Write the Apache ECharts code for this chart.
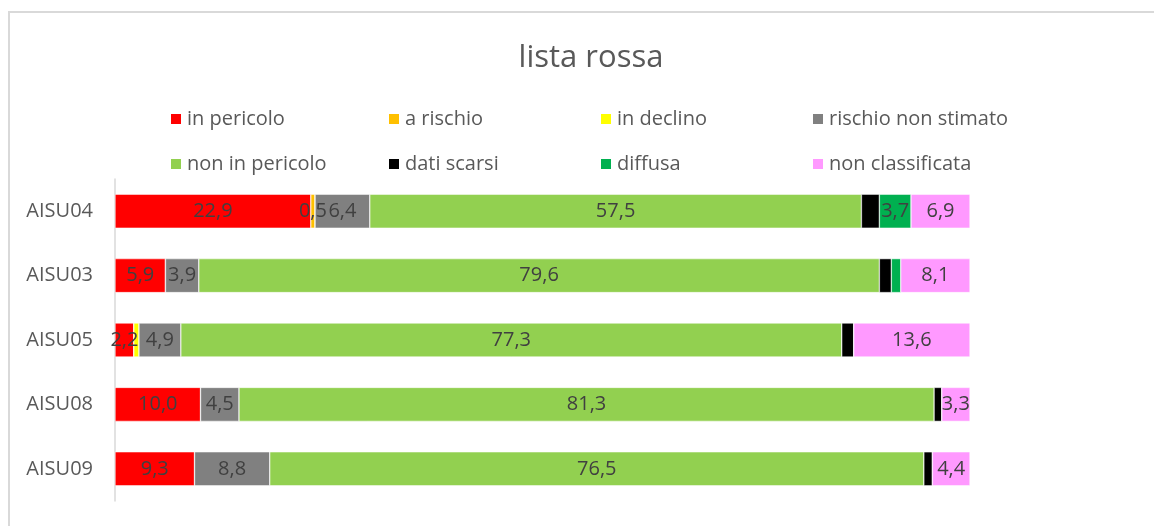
<!DOCTYPE html>
<html>
<head>
<meta charset="utf-8">
<title>lista rossa</title>
<script src="https://cdn.jsdelivr.net/npm/echarts@6/dist/echarts.min.js"></script>
<style>
  html, body { margin: 0; padding: 0; background: #fff; }
  #chart { width: 1154px; height: 526px; }
</style>
</head>
<body>
<div id="chart"></div>
<script>
// categorie (dall'alto in basso)
const categories = ["AISU04", "AISU03", "AISU05", "AISU08", "AISU09"];

// valori percentuali per categoria di rischio
const inPericolo = [22.9, 5.9, 2.2, 10.0, 9.3];
const aRischio = [0.5, 0, 0, 0, 0];
const inDeclino = [0, 0, 0.6, 0, 0];
const rischioNonStimato = [6.4, 3.9, 4.9, 4.5, 8.8];
const nonInPericolo = [57.5, 79.6, 77.3, 81.3, 76.5];
const datiScarsi = [2.1, 1.4, 1.4, 0.9, 1.0];
const diffusa = [3.7, 1.1, 0, 0, 0];
const nonClassificata = [6.9, 8.1, 13.6, 3.3, 4.4];

const seriesDefs = [
  { name: "in pericolo", data: inPericolo, color: "#FF0000" },
  { name: "a rischio", data: aRischio, color: "#FFC000" },
  { name: "in declino", data: inDeclino, color: "#FFFF00" },
  { name: "rischio non stimato", data: rischioNonStimato, color: "#808080" },
  { name: "non in pericolo", data: nonInPericolo, color: "#92D050" },
  { name: "dati scarsi", data: datiScarsi, color: "#000000" },
  { name: "diffusa", data: diffusa, color: "#00B050" },
  { name: "non classificata", data: nonClassificata, color: "#FF99FF" }
];

const textColor = "#595959";
const font = "'Open Sans', 'Noto Sans', sans-serif";

// etichette: nascoste per dati scarsi / in declino e per i segmenti troppo piccoli
function labelText(p) {
  if (!p.value) return "";
  if (p.seriesName === "dati scarsi" || p.seriesName === "in declino") return "";
  if (p.seriesName === "diffusa" && p.value < 2) return "";
  return p.value.toFixed(1).replace(".", ",");
}

// legenda su 4 colonne, 2 righe
const legendCols = [169, 387, 599, 811];
const legends = legendCols.map(function (left, i) {
  return {
    orient: "vertical",
    left: left,
    top: 109,
    padding: 0,
    itemWidth: 12,
    itemHeight: 12,
    itemGap: 25,
    icon: "rect",
    selectedMode: false,
    data: [seriesDefs[i].name, seriesDefs[i + 4].name],
    textStyle: { color: textColor, fontSize: 20, fontFamily: font }
  };
});

const chart = echarts.init(document.getElementById("chart"));
chart.setOption({
  animation: false,
  title: {
    text: "lista rossa",
    left: 586,
    textAlign: "center",
    top: 38,
    textStyle: { color: textColor, fontSize: 31, fontWeight: "normal", fontFamily: font }
  },
  legend: legends,
  grid: { left: 115, right: 184, top: 179, bottom: 25 },
  xAxis: {
    type: "value",
    min: 0,
    max: 100,
    show: false
  },
  yAxis: {
    type: "category",
    inverse: true,
    data: categories,
    axisLine: { lineStyle: { color: "#D9D9D9", width: 1.5 } },
    axisTick: { show: false },
    axisLabel: { color: textColor, fontSize: 20, fontFamily: font, margin: 22 }
  },
  graphic: [{
    type: "rect",
    shape: { x: 9, y: 12, width: 1300, height: 700 },
    style: { fill: "none", stroke: "#D9D9D9", lineWidth: 2 },
    silent: true
  }],
  series: seriesDefs.map(function (s) {
    return {
      name: s.name,
      type: "bar",
      stack: "tot",
      barWidth: 34,
      data: s.data,
      itemStyle: { color: s.color, borderColor: "#fff", borderWidth: 0.5 },
      label: {
        show: true,
        position: "inside",
        color: "#404040",
        fontSize: 20,
        fontFamily: font,
        formatter: labelText
      }
    };
  })
});
</script>
</body>
</html>
